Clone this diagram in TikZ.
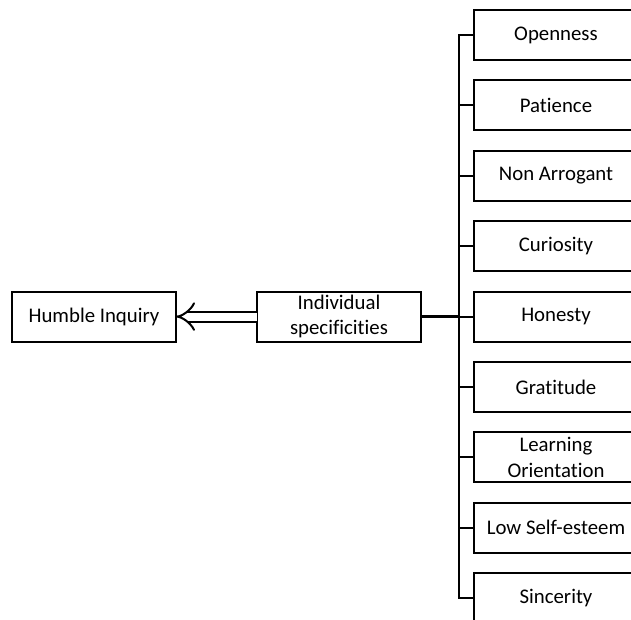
\documentclass[tikz,border=0pt]{standalone}
\usepackage{fontspec}
\setmainfont{Carlito}[Ligatures=NoCommon]
\usetikzlibrary{arrows.meta}
\usetikzlibrary{positioning}

\begin{document}
\begin{tikzpicture}[x=1pt,y=1pt] % humble inquiry tree
		\newcommand{\boxGap}{20.4pt}
		\newcommand{\busSpace}{15}
		\tikzset{
			item/.style = {draw, line width=2pt, minimum width=164pt, minimum height=50pt,
				inner sep=0pt, outer sep=0pt, align=center, font=\fontsize{20.8}{25.4}\selectfont},
			link/.style = {line width=2pt},
		}
		
		\useasboundingbox (0,0) rectangle (631,620);	% page
		\clip (0,0) rectangle (631,620);
		
		% right column
		\node [item] (open) at (556,585) {Openness};
		\node [item, below=\boxGap of open] (pat) {Patience};
		\node [item, below=\boxGap of pat] (nonarr) {Non Arrogant};
		\node [item, below=\boxGap of nonarr] (cur) {Curiosity};
		\node [item, below=\boxGap of cur] (hon) {Honesty};
		\node [item, below=\boxGap of hon] (grat) {Gratitude};
		\node [item, below=\boxGap of grat] (learn) {Learning\\Orientation};
		\node [item, below=\boxGap of learn] (lowself) {Low Self-esteem};
		\node [item, below=\boxGap of lowself] (sinc) {Sincerity};
		
		% left side
		\node [item, left=53pt of hon] (indiv) {Individual\\specificities};
		\node [item, left=81pt of indiv] (humble) {Humble Inquiry};
		
		% bus
		\draw [link] (open.west) -- ++(-\busSpace,0) coordinate (bustop) |- (sinc.west);
		\draw [link] (pat.west) -- (pat.west -| bustop);
		\draw [link] (nonarr.west) -- (nonarr.west -| bustop);
		\draw [link] (cur.west) -- (cur.west -| bustop);
		\draw [link] (hon.west) -- (hon.west -| bustop);
		\draw [link] (grat.west) -- (grat.west -| bustop);
		\draw [link] (learn.west) -- (learn.west -| bustop);
		\draw [link] (lowself.west) -- (lowself.west -| bustop);
		\draw [line width=3pt] (indiv.east) -- (indiv.east -| bustop);
		
		% arrow
		\draw [link, double, double distance=8pt, -{Implies[length=10pt,width=24pt]}] (indiv.west) -- (humble.east);
\end{tikzpicture}
\end{document}
